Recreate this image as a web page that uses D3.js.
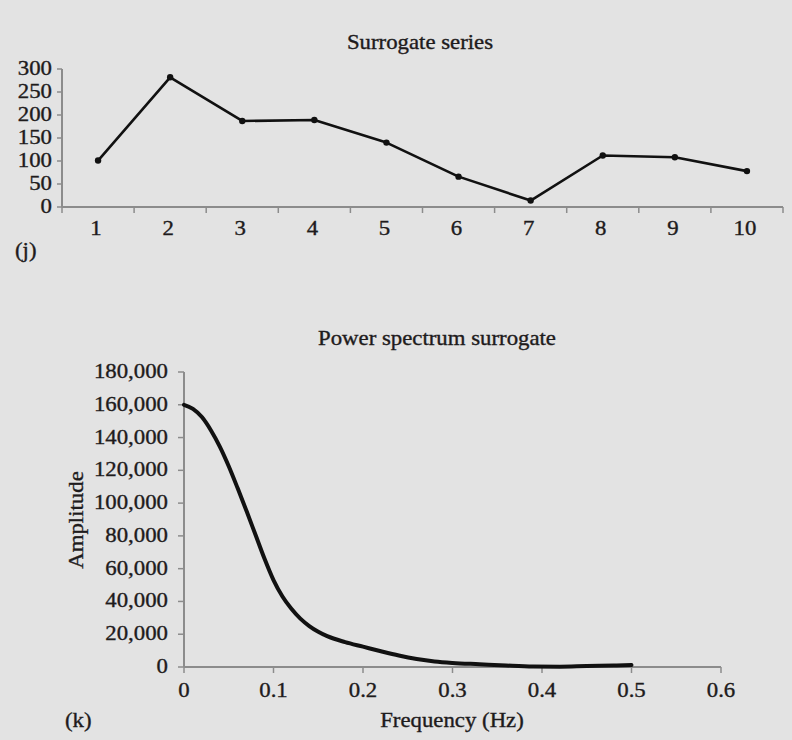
<!DOCTYPE html>
<html>
<head>
<meta charset="utf-8">
<script src="https://cdn.jsdelivr.net/npm/d3@7"></script>
<style>
    body {
        margin: 0;
        padding: 0;
        background: #e3e3e3;
    }
    svg text {
        font-family: "Liberation Serif", "Times New Roman", serif;
        font-size: 20px;
        fill: #1e1b1c;
        stroke: #1e1b1c;
        stroke-width: 0.35px;
    }
</style>
</head>
<body>
<script>
// (j) surrogate series
const seriesX = [1, 2, 3, 4, 5, 6, 7, 8, 9, 10];
const seriesY = [101, 282, 187, 189, 140, 66, 14, 112, 108, 78];
const seriesTicks = [0, 50, 100, 150, 200, 250, 300];

// (k) power spectrum of surrogate
const freq = [0, 0.01, 0.02, 0.03, 0.04, 0.05, 0.06, 0.07, 0.08, 0.09, 0.10,
    0.11, 0.12, 0.13, 0.14, 0.15, 0.16, 0.18, 0.20, 0.22, 0.24, 0.26, 0.28,
    0.30, 0.33, 0.36, 0.39, 0.42, 0.45, 0.48, 0.50];
const amplitude = [160000, 157500, 152500, 144500, 134500, 122500, 109000, 95000,
    80500, 66000, 53000, 43000, 35500, 29500, 25000, 21500, 18800, 15200, 12400,
    9600, 7000, 4900, 3400, 2500, 1700, 900, 300, 200, 600, 900, 1200];
const ampTicks = [0, 20000, 40000, 60000, 80000, 100000, 120000, 140000, 160000, 180000];
const freqTicks = [0, 0.1, 0.2, 0.3, 0.4, 0.5, 0.6];

const width = 792;
const height = 740;
const axisColor = '#8c8c8c';
const stretch = 1.14; // the print font is wider than Liberation Serif

const svg = d3.create('svg')
    .attr('viewBox', [0, 0, width, height])
    .attr('width', width)
    .attr('height', height);

document.body.appendChild(svg.node());

function label(g, x, y, txt, anchor, rot) {
    return g.append('text')
        .attr('transform', `translate(${x},${y})` + (rot ? ` rotate(${rot})` : '') + ` scale(${stretch},1)`)
        .attr('text-anchor', anchor || 'start')
        .text(txt);
}

// ---------- top chart ----------
const x1 = d3.scaleBand().domain(seriesX).range([62, 783]);
const y1 = d3.scaleLinear().domain([0, 300]).range([207, 69]);

label(svg, 420, 49, 'Surrogate series', 'middle');

// y axis
const gy1 = svg.append('g');
gy1.append('line')
    .attr('x1', 62).attr('x2', 62)
    .attr('y1', y1(300)).attr('y2', y1(0))
    .attr('stroke', axisColor).attr('stroke-width', 2);
gy1.selectAll('line.tick')
    .data(seriesTicks)
    .join('line')
        .classed('tick', true)
        .attr('x1', 57).attr('x2', 62)
        .attr('y1', d => y1(d)).attr('y2', d => y1(d))
        .attr('stroke', axisColor).attr('stroke-width', 1.5);
seriesTicks.forEach(d => label(gy1, 52, y1(d) + 6, d, 'end'));

// x axis
const gx1 = svg.append('g');
gx1.append('line')
    .attr('x1', 62).attr('x2', 783)
    .attr('y1', y1(0)).attr('y2', y1(0))
    .attr('stroke', axisColor).attr('stroke-width', 2);
const bounds = seriesX.map(d => x1(d)).concat([x1.range()[1]]);
gx1.selectAll('line.tick')
    .data(bounds)
    .join('line')
        .classed('tick', true)
        .attr('x1', d => d).attr('x2', d => d)
        .attr('y1', y1(0)).attr('y2', y1(0) + 6)
        .attr('stroke', axisColor).attr('stroke-width', 1.5);
seriesX.forEach(d => label(gx1, x1(d) + x1.bandwidth() / 2 - 2, 235, d, 'middle'));

const pts1 = seriesX.map((d, i) => [x1(d) + x1.bandwidth() / 2, y1(seriesY[i])]);
svg.append('path')
    .attr('d', d3.line()(pts1))
    .attr('fill', 'none')
    .attr('stroke', '#111')
    .attr('stroke-width', 2.6)
    .attr('stroke-linejoin', 'round');
svg.selectAll('circle.pt')
    .data(pts1)
    .join('circle')
        .classed('pt', true)
        .attr('cx', d => d[0]).attr('cy', d => d[1])
        .attr('r', 3.2)
        .attr('fill', '#111');

label(svg, 15, 257, '(j)');

// ---------- bottom chart ----------
const x2 = d3.scaleLinear().domain([0, 0.6]).range([184, 721]);
const y2 = d3.scaleLinear().domain([0, 180000]).range([667, 372]);
const fmt = d3.format(',');

label(svg, 437, 345, 'Power spectrum surrogate', 'middle');

const gy2 = svg.append('g');
gy2.append('line')
    .attr('x1', x2(0)).attr('x2', x2(0))
    .attr('y1', y2(180000)).attr('y2', y2(0))
    .attr('stroke', axisColor).attr('stroke-width', 2);
gy2.selectAll('line.tick')
    .data(ampTicks)
    .join('line')
        .classed('tick', true)
        .attr('x1', x2(0) - 6).attr('x2', x2(0))
        .attr('y1', d => y2(d)).attr('y2', d => y2(d))
        .attr('stroke', axisColor).attr('stroke-width', 1.5);
ampTicks.forEach(d => label(gy2, 168, y2(d) + 6, fmt(d), 'end'));

const gx2 = svg.append('g');
gx2.append('line')
    .attr('x1', x2(0)).attr('x2', x2(0.6))
    .attr('y1', y2(0)).attr('y2', y2(0))
    .attr('stroke', axisColor).attr('stroke-width', 2);
gx2.selectAll('line.tick')
    .data(freqTicks)
    .join('line')
        .classed('tick', true)
        .attr('x1', d => x2(d)).attr('x2', d => x2(d))
        .attr('y1', y2(0)).attr('y2', y2(0) + 6)
        .attr('stroke', axisColor).attr('stroke-width', 1.5);
freqTicks.forEach(d => label(gx2, x2(d), 697, d, 'middle'));

svg.append('path')
    .datum(freq.map((f, i) => [f, amplitude[i]]))
    .attr('d', d3.line().x(d => x2(d[0])).y(d => y2(d[1])).curve(d3.curveMonotoneX))
    .attr('fill', 'none')
    .attr('stroke', '#111')
    .attr('stroke-width', 4)
    .attr('stroke-linecap', 'round');

label(svg, 83, 520, 'Amplitude', 'middle', -90);
label(svg, 452, 727, 'Frequency (Hz)', 'middle');
label(svg, 65, 727, '(k)');
</script>
</body>
</html>
